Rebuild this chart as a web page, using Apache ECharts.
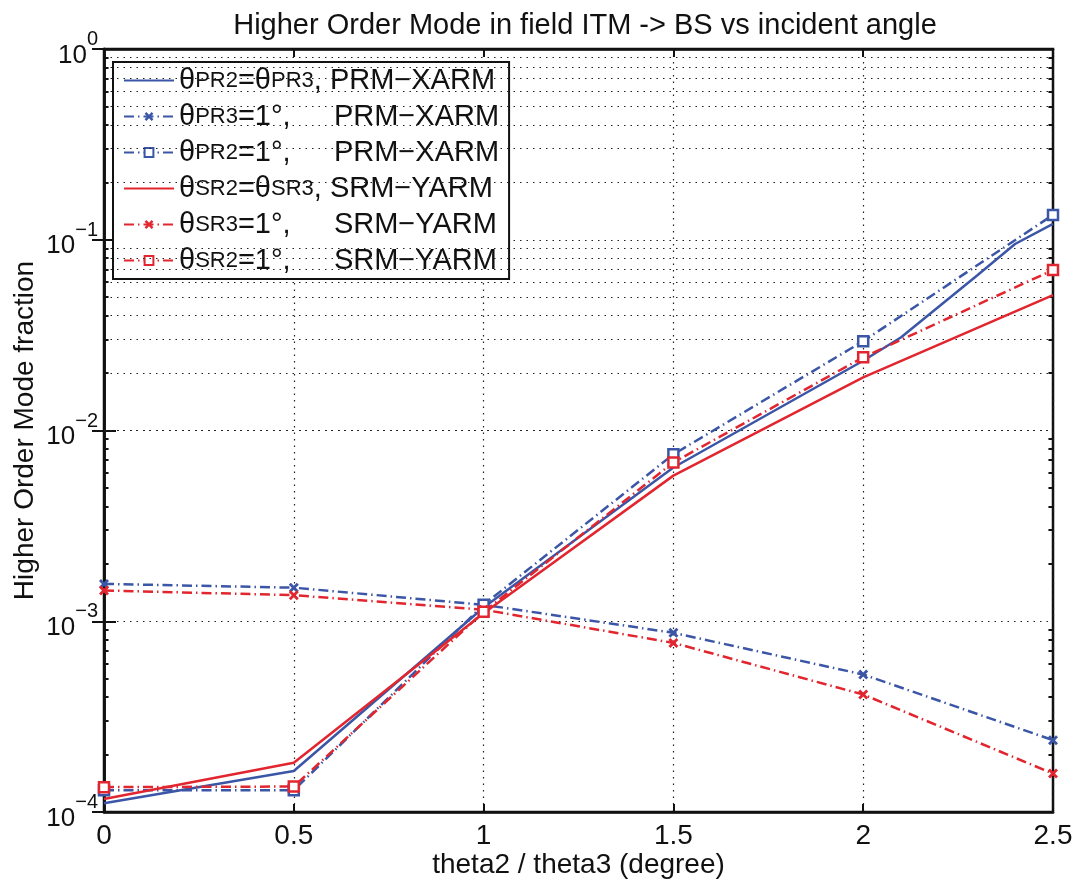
<!DOCTYPE html>
<html>
<head>
<meta charset="utf-8">
<script src="https://cdn.jsdelivr.net/npm/echarts@6/dist/echarts.min.js"></script>
<style>
  html, body { margin: 0; padding: 0; background: #fff; overflow: hidden; }
  #main { width: 1076px; height: 881px; }
</style>
</head>
<body>
<div id="main"></div>
<script>
// angles (degree) where the 1-degree curves were computed
var xSteps = [0, 0.5, 1, 1.5, 2, 2.5];
// the solid PRM curve has extra kinks near the end
var xPrmBoth = [0, 0.5, 1, 1.5, 2, 2.1, 2.3, 2.4, 2.5];
var xSrmBoth = [0, 0.5, 1, 1.5, 2, 2.5];

var prmBoth = [1.11e-4, 1.64e-4, 1.18e-3, 6.4e-3, 2.32e-2, 3.08e-2, 6.5e-2, 9.5e-2, 1.21e-1];
var prmTheta3 = [1.57e-3, 1.50e-3, 1.22e-3, 8.7e-4, 5.26e-4, 2.38e-4];
var prmTheta2 = [1.30e-4, 1.30e-4, 1.22e-3, 7.5e-3, 2.94e-2, 1.35e-1];
var srmBoth = [1.17e-4, 1.81e-4, 1.10e-3, 5.8e-3, 1.90e-2, 5.13e-2];
var srmTheta3 = [1.45e-3, 1.37e-3, 1.15e-3, 7.7e-4, 4.13e-4, 1.59e-4];
var srmTheta2 = [1.35e-4, 1.36e-4, 1.12e-3, 6.8e-3, 2.42e-2, 6.94e-2];

var seriesNames = [
  'θPR2=θPR3, PRM−XARM',
  'θPR3=1°, PRM−XARM',
  'θPR2=1°, PRM−XARM',
  'θSR2=θSR3, SRM−YARM',
  'θSR3=1°, SRM−YARM',
  'θSR2=1°, SRM−YARM'
];
// legend text with small subscripts and a fixed first column
var legendRich = {};
legendRich[seriesNames[0]] = '{t|θ}{s|PR2}{t|=θ}{s|PR3}{t|, PRM−XARM}';
legendRich[seriesNames[1]] = '{t|θ}{s|PR3}{e|=1°,}{t|PRM−XARM}';
legendRich[seriesNames[2]] = '{t|θ}{s|PR2}{e|=1°,}{t|PRM−XARM}';
legendRich[seriesNames[3]] = '{t|θ}{s|SR2}{t|=θ}{s|SR3}{t|, SRM−YARM}';
legendRich[seriesNames[4]] = '{t|θ}{s|SR3}{e|=1°,}{t|SRM−YARM}';
legendRich[seriesNames[5]] = '{t|θ}{s|SR2}{e|=1°,}{t|SRM−YARM}';

var BLUE = '#3b56a6';
var RED = '#e1262f';
var INK = '#111';
var FONT = '"Liberation Sans", Arial, Helvetica, sans-serif';
var DASHDOT = [10, 4, 1.5, 4];
var DOTS = [1.5, 5];
var CROSS = 'path://M0,2L2,0L5,3L8,0L10,2L7,5L10,8L8,10L5,7L2,10L0,8L3,5Z';

function pairs(xs, ys) {
  return xs.map(function (x, i) { return [x, ys[i]]; });
}

// minor log grid lines 2..9 per decade, plus short inward ticks on both sides
var minorLines = [];
var minorTicks = [];
for (var d = -4; d < 0; d++) {
  for (var m = 2; m <= 9; m++) {
    var v = m * Math.pow(10, d);
    minorLines.push({ yAxis: v });
    minorTicks.push([{ coord: [0, v] }, { coord: [0.012, v] }]);
    minorTicks.push([{ coord: [2.488, v] }, { coord: [2.5, v] }]);
  }
}

var chart = echarts.init(document.getElementById('main'));

function lineSeries(name, xs, ys, color, dashed, symbol) {
  return {
    name: name,
    type: 'line',
    data: pairs(xs, ys),
    symbol: symbol || 'none',
    symbolSize: 10,
    showSymbol: !!symbol,
    z: 5,
    lineStyle: { color: color, width: 2.5, type: dashed ? DASHDOT : 'solid' },
    itemStyle: symbol === 'rect'
      ? { color: '#fff', borderColor: color, borderWidth: 2.5 }
      : { color: color, borderWidth: 0 },
    emphasis: { disabled: true },
    animation: false
  };
}

var option = {
  backgroundColor: '#fff',
  animation: false,
  title: {
    text: 'Higher Order Mode in field ITM -> BS vs incident angle',
    left: 580,
    textAlign: 'center',
    top: 6,
    textStyle: { fontFamily: FONT, fontSize: 29, fontWeight: 'normal', color: INK }
  },
  grid: {
    left: 104, right: 23, top: 49, bottom: 69,
    outerBoundsMode: 'none',
    containLabel: false,
    show: true, borderColor: INK, borderWidth: 2.5, backgroundColor: 'transparent'
  },
  legend: {
    orient: 'vertical',
    left: 113,
    top: 62,
    padding: [4, 10, 4, 10],
    itemGap: 7,
    itemWidth: 50,
    itemHeight: 11,
    backgroundColor: '#fff',
    borderColor: INK,
    borderWidth: 2,
    data: seriesNames.map(function (n, i) {
      // solid curves show only a line in the legend
      return (i === 0 || i === 3) ? { name: n, itemStyle: { opacity: 0 } } : n;
    }),
    formatter: function (name) { return legendRich[name]; },
    textStyle: {
      fontFamily: FONT,
      color: INK,
      rich: {
        t: { fontSize: 29, fontFamily: FONT, color: INK, lineHeight: 30 },
        s: { fontSize: 22, fontFamily: FONT, color: INK, lineHeight: 30 },
        e: { fontSize: 29, fontFamily: FONT, color: INK, lineHeight: 30, width: 96 }
      }
    }
  },
  xAxis: [{
    type: 'value',
    min: 0, max: 2.5, interval: 0.5,
    name: 'theta2 / theta3 (degree)',
    nameLocation: 'middle',
    nameGap: 39,
    nameMoveOverlap: false,
    nameTextStyle: { fontFamily: FONT, fontSize: 28, color: INK },
    axisLine: { show: true, lineStyle: { color: INK, width: 2.5 } },
    axisTick: { show: true, inside: true, length: 8, lineStyle: { color: INK, width: 2 } },
    axisLabel: {
      fontFamily: FONT, fontSize: 28, color: INK, margin: 10,
      formatter: function (v) { return String(v); }
    },
    splitLine: { show: true, lineStyle: { color: '#222', width: 1.2, type: DOTS } }
  }, {
    type: 'value',
    position: 'top',
    min: 0, max: 2.5, interval: 0.5,
    axisLine: { show: true, lineStyle: { color: INK, width: 2.5 } },
    axisTick: { show: true, inside: true, length: 8, lineStyle: { color: INK, width: 2 } },
    axisLabel: { show: false },
    splitLine: { show: false }
  }],
  yAxis: [{
    type: 'log',
    logBase: 10,
    min: 1e-4, max: 1,
    name: 'Higher Order Mode fraction',
    nameLocation: 'middle',
    nameRotate: 90,
    nameGap: 65,
    nameMoveOverlap: false,
    nameTextStyle: { fontFamily: FONT, fontSize: 28, color: INK },
    axisLine: { show: true, lineStyle: { color: INK, width: 2.5 } },
    axisTick: { show: true, inside: true, length: 12, lineStyle: { color: INK, width: 2 } },
    axisLabel: {
      margin: 6,
      formatter: function (val) {
        var e = Math.round(Math.log10(val));
        return '{b|10}{s|' + (e === 0 ? '0' : '−' + (-e)) + '}';
      },
      rich: {
        b: { fontFamily: FONT, fontSize: 26, color: INK, verticalAlign: 'bottom' },
        s: { fontFamily: FONT, fontSize: 20, color: INK, verticalAlign: 'bottom', padding: [0, 0, 19, 0] }
      }
    },
    splitLine: { show: true, lineStyle: { color: '#222', width: 1.2, type: DOTS } }
  }, {
    type: 'log',
    logBase: 10,
    min: 1e-4, max: 1,
    position: 'right',
    axisLine: { show: true, lineStyle: { color: INK, width: 2.5 } },
    axisTick: { show: true, inside: true, length: 12, lineStyle: { color: INK, width: 2 } },
    axisLabel: { show: false },
    splitLine: { show: false }
  }],
  series: [
    {
      name: 'minor grid',
      type: 'line',
      data: [],
      silent: true,
      markLine: {
        silent: true,
        symbol: 'none',
        label: { show: false },
        animation: false,
        lineStyle: { color: '#222', width: 1.2, type: DOTS },
        emphasis: { disabled: true },
        data: minorLines
      }
    },
    {
      name: 'minor ticks',
      type: 'line',
      data: [],
      silent: true,
      markLine: {
        silent: true,
        symbol: 'none',
        label: { show: false },
        animation: false,
        lineStyle: { color: INK, width: 2, type: 'solid' },
        emphasis: { disabled: true },
        data: minorTicks
      }
    },
    lineSeries(seriesNames[0], xPrmBoth, prmBoth, BLUE, false, null),
    lineSeries(seriesNames[1], xSteps, prmTheta3, BLUE, true, CROSS),
    lineSeries(seriesNames[2], xSteps, prmTheta2, BLUE, true, 'rect'),
    lineSeries(seriesNames[3], xSrmBoth, srmBoth, RED, false, null),
    lineSeries(seriesNames[4], xSteps, srmTheta3, RED, true, CROSS),
    lineSeries(seriesNames[5], xSteps, srmTheta2, RED, true, 'rect')
  ]
};

chart.setOption(option);
</script>
</body>
</html>
